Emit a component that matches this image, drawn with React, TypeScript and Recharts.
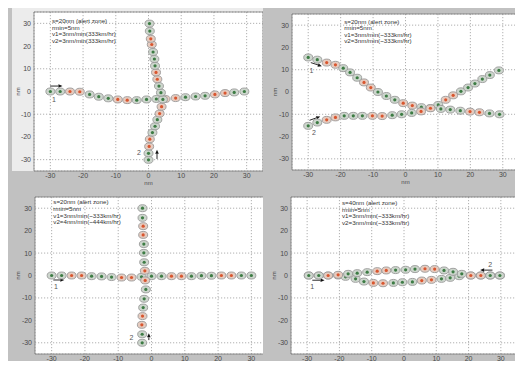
import {
  CartesianGrid,
  ReferenceArea,
  ReferenceDot,
  ReferenceLine,
  Scatter,
  ScatterChart,
  XAxis,
  YAxis,
} from "recharts";

const TICKS = [-30, -20, -10, 0, 10, 20, 30];
// every 5th minute pair is drawn in red
const MARKED = [2, 3, 7, 8, 12, 13, 17, 18];

// (a) crossing at right angles
const A1_X = [-30, -27, -24, -21, -18, -15.2, -12.3, -9.4, -6.5, -3.6, -0.6, 2.4, 5.2, 8.3, 11.3, 14.4, 17.3, 20.3, 23.4, 26.2, 29.3];
const A1_Y = [0, 0, 0, -0.1, -1.3, -2.3, -3, -3.5, -3.8, -3.8, -3.5, -3.3, -3.3, -2.9, -2.5, -2.2, -1.9, -1.3, -0.7, -0.4, 0];
const A2_X = [0, 0, 0.2, 0.4, 1.2, 2, 2.7, 3.4, 4, 4.4, 3.8, 3.2, 2.7, 2.3, 2.0, 1.8, 1.4, 1.0, 0.7, 0.4, 0.3];
const A2_Y = [-30.1, -27.2, -24.2, -21, -18.1, -15.3, -12.4, -9.7, -6.7, -3.5, -0.5, 2.4, 5.4, 8.4, 11.3, 14.3, 17.4, 20.7, 23.2, 26.6, 29.9];

// (b) converging tracks
const B1_X = [-30, -27.2, -24.3, -21.6, -19.2, -17.1, -14.9, -12.8, -10.7, -8.5, -5.9, -3.3, -0.7, 2.1, 4.9, 7.7, 10.1, 12.4, 14.7, 17.1, 19.3, 21.4, 23.7, 26, 28.8];
const B1_Y = [15.5, 14.5, 13.2, 12.2, 10.7, 8.8, 6.4, 4.3, 2.0, 0, -1.8, -3.5, -5.0, -6.1, -6.8, -7.2, -5.8, -3.5, -1.5, 0.3, 2.0, 3.8, 5.8, 7.6, 9.7];
const B2_X = [-30, -27.2, -24.3, -21.6, -18.9, -16.1, -13.3, -10.2, -7.2, -4.1, -1.2, 1.9, 4.8, 7.7, 10.9, 13.8, 16.9, 19.9, 22.8, 25.9, 29];
const B2_Y = [-15.2, -13.7, -12.5, -11.4, -10.7, -10.7, -10.7, -10.7, -10.8, -10.4, -10, -9.4, -8.7, -7.3, -7.6, -7.9, -8.4, -8.8, -9.1, -9.6, -10];

// (c) right angles, different speeds
const C1_X = [-30, -27, -24, -21, -18, -15, -12, -9, -6, -3, 0, 3, 6, 9, 12, 15, 18, 21, 24, 27, 30];
const C1_Y = [0, 0, 0, 0, -0.3, -0.4, -0.7, -0.9, -0.9, -0.6, -0.3, -0.3, -0.3, -0.3, -0.3, -0.1, -0.1, 0, 0, 0, 0];
const C2_X = [-2.8, -2.8, -2.9, -2.7, -2.5, -2.2, -1.7, -1.9, -2.0, -2.2, -2.3, -2.3, -2.5, -2.5, -2.7, -2.7];
const C2_Y = [-30, -26.2, -22, -18.1, -14.3, -10.4, -6.2, -2.2, 2.1, 5.9, 10.1, 14, 18.1, 22, 25.7, 30];

// (d) head-on
const D1_X = [-29.5, -26.4, -23.5, -20.4, -18.1, -15, -12.4, -9.5, -6.5, -3.3, -0.5, 2.6, 5.5, 8.5, 11.6, 14.3, 17.1, 20.7, 23.8, 26.7, 29.7];
const D1_Y = [0, 0, 0, 0, -0.6, -1.5, -2.7, -3.3, -3.45, -3.3, -3.0, -2.85, -2.25, -1.95, -1.5, -1.05, -0.3, 0, 0, 0, 0];
const D2_X = [29.7, 26.7, 23.8, 20.7, 17.9, 15.2, 12.4, 9.5, 6.5, 3.4, 0.5, -2.6, -5.5, -8.3, -11.4, -14.5, -17.3, -20.4, -23.5, -26.4, -29.5];
const D2_Y = [0, 0, 0, 0, 0.75, 1.65, 2.25, 2.85, 3.0, 2.85, 2.55, 2.4, 2.25, 1.95, 1.5, 1.05, 0.75, 0.3, 0, 0, 0];

const NOTES_A = ["s=20nm (alert zone)", "rmin=5nm", "v1=3nm/min(333km/hr)", "v2=3nm/min(333km/hr)"];
const NOTES_B = ["s=20nm (alert zone)", "rmin=5nm", "v1=3nm/min(~333km/hr)", "v2=3nm/min(~333km/hr)"];
const NOTES_C = ["s=20nm (alert zone)", "rmin=5nm", "v1=3nm/min(~333km/hr)", "v2=4nm/min(~444km/hr)"];
const NOTES_D = ["s=40nm (alert zone)", "rmin=5nm", "v1=3nm/min(~333km/hr)", "v2=3nm/min(~333km/hr)"];
const NOTE_AT_A = [-29.5, 31.5];
const NOTE_AT_B = [-18.9, 32];
const NOTE_AT_C = [-29.5, 33];
const NOTE_AT_D = [-19.2, 32.7];

// start arrows: from, to, label text, label position (nm)
const ARROWS_A = [
  { from: [-30.1, 2.4], to: [-26.3, 2.4], text: "1", at: [-28.9, -3.6] },
  { from: [2.6, -29.7], to: [2.6, -25.6], text: "2", at: [-2.9, -26.8] },
];
const ARROWS_B = [
  { from: [-29.2, 13.2], to: [-25.8, 11.6], text: "1", at: [-29, 9.6] },
  { from: [-29.6, -12.7], to: [-26.3, -11], text: "2", at: [-28.2, -18.2] },
];
const ARROWS_C = [
  { from: [-29.5, -2], to: [-26.2, -2], text: "1", at: [-28.7, -4.8] },
  { from: [-0.8, -28.8], to: [-0.8, -25.8], text: "2", at: [-6, -27.8] },
];
const ARROWS_D = [
  { from: [-28.4, -2.1], to: [-24.6, -2.1], text: "1", at: [-28.4, -4.8] },
  { from: [27.4, 2.4], to: [23.6, 2.4], text: "2", at: [26.7, 5] },
];

const TEXT = "#4a4a4a";
const FONT = "'Liberation Sans', Arial, sans-serif";

function track(xs: number[], ys: number[]) {
  return xs.map((x, i) => ({ x, y: ys[i], alert: MARKED.includes(i) }));
}

function Marker(props: any) {
  const { cx, cy, payload } = props;
  const red = payload.alert;
  return (
    <g>
      <ellipse cx={cx} cy={cy} rx={4.5} ry={3.5} fill={red ? "#e6cbbf" : "#cdd6cd"} stroke="#9a9a9a" strokeWidth={0.9} />
      <circle cx={cx} cy={cy} r={1.6} fill={red ? "#d9562f" : "#3d7c44"} />
    </g>
  );
}

function Arrow(props: any) {
  const { x1, y1, x2, y2 } = props;
  const ang = Math.atan2(y2 - y1, x2 - x1);
  const bx = x2 - 4 * Math.cos(ang);
  const by = y2 - 4 * Math.sin(ang);
  const px = -Math.sin(ang) * 1.8;
  const py = Math.cos(ang) * 1.8;
  return (
    <g>
      <line x1={x1} y1={y1} x2={bx} y2={by} stroke="#111" strokeWidth={0.9} />
      <polygon points={`${x2},${y2} ${bx + px},${by + py} ${bx - px},${by - py}`} fill="#111" />
    </g>
  );
}

interface PanelProps {
  left: number;
  top: number;
  width: number;
  height: number;
  marginTop: number;
  yWidth: number;
  xHeight: number;
  yLabelX: number;
  xLabelDy: number;
  bg?: string;
  tracks: Array<{ x: number; y: number; alert: boolean }[]>;
  notes: string[];
  noteAt: number[];
  arrows: typeof ARROWS_A;
}

function Panel(p: PanelProps) {
  return (
    <div style={{ position: "absolute", left: p.left, top: p.top, width: p.width, height: p.height, background: p.bg }}>
      <ScatterChart
        width={p.width}
        height={p.height}
        margin={{ top: p.marginTop, right: 0, left: 0, bottom: 0 }}
      >
        <CartesianGrid stroke="#9c9c9c" strokeDasharray="1.2 1.8" strokeWidth={0.8} fill="#ffffff" />
        <XAxis
          type="number"
          dataKey="x"
          domain={[-35, 35]}
          ticks={TICKS}
          allowDataOverflow
          height={p.xHeight}
          tickSize={0}
          tickMargin={2}
          axisLine={false}
          tick={{ fontSize: 7, fill: TEXT, fontFamily: FONT }}
          label={{
            content: ({ viewBox }: any) => (
              <text x={viewBox.x + viewBox.width / 2} y={viewBox.y + p.xLabelDy} textAnchor="middle" fontSize={6} fill={TEXT} fontFamily={FONT}>
                nm
              </text>
            ),
          }}
        />
        <YAxis
          type="number"
          dataKey="y"
          domain={[-35, 35]}
          ticks={TICKS}
          allowDataOverflow
          width={p.yWidth}
          tickSize={0}
          tickMargin={3}
          axisLine={false}
          tick={{ fontSize: 7, fill: TEXT, fontFamily: FONT }}
          label={{
            content: ({ viewBox }: any) => {
              const cx = viewBox.x + p.yLabelX;
              const cy = viewBox.y + viewBox.height / 2;
              return (
                <text x={cx} y={cy} transform={`rotate(-90 ${cx} ${cy})`} textAnchor="middle" dominantBaseline="central" fontSize={6} fill={TEXT} fontFamily={FONT}>
                  nm
                </text>
              );
            },
          }}
        />
        <ReferenceArea x1={-35} x2={35} y1={-35} y2={35} fill="none" stroke="#7c7c7c" strokeWidth={0.8} />
        {p.tracks.map((t, i) => (
          <Scatter key={i} data={t} shape={Marker} isAnimationActive={false} />
        ))}
        {p.arrows.map((a, i) => (
          <ReferenceLine
            key={"ar" + i}
            segment={[
              { x: a.from[0], y: a.from[1] },
              { x: a.to[0], y: a.to[1] },
            ]}
            shape={Arrow}
          />
        ))}
        {p.arrows.map((a, i) => (
          <ReferenceDot
            key={"lb" + i}
            x={a.at[0]}
            y={a.at[1]}
            shape={(d: any) => (
              <text x={d.cx} y={d.cy} textAnchor="middle" dominantBaseline="central" fontSize={7} fill="#555" fontFamily={FONT}>
                {a.text}
              </text>
            )}
          />
        ))}
        <ReferenceDot
          x={p.noteAt[0]}
          y={p.noteAt[1]}
          shape={(d: any) => (
            <text x={d.cx} y={d.cy} fontSize={6.2} fill="#333" fontFamily={FONT} dominantBaseline="central">
              {p.notes.map((n, i) => (
                <tspan key={i} x={d.cx} dy={i === 0 ? 0 : 6.6}>
                  {n}
                </tspan>
              ))}
            </text>
          )}
        />
      </ScatterChart>
    </div>
  );
}

export default function App() {
  return (
    <div style={{ position: "relative", width: 523, height: 369, background: "#c1c1c1", overflow: "hidden", margin: -8 }}>
      <div style={{ position: "absolute", left: 12, top: 3, width: 251, height: 168, background: "#ececec" }} />
      <Panel
        left={0}
        top={0}
        width={263}
        height={190}
        marginTop={12}
        yWidth={34}
        xHeight={19}
        yLabelX={18}
        xLabelDy={14}
        tracks={[track(A1_X, A1_Y), track(A2_X, A2_Y)]}
        notes={NOTES_A}
        noteAt={NOTE_AT_A}
        arrows={ARROWS_A}
      />
      <Panel
        left={0}
        top={185}
        width={268}
        height={184}
        marginTop={12}
        yWidth={35}
        xHeight={15}
        yLabelX={18}
        xLabelDy={13}
        tracks={[track(C1_X, C1_Y), track(C2_X, C2_Y)]}
        notes={NOTES_C}
        noteAt={NOTE_AT_C}
        arrows={ARROWS_C}
      />
      <Panel
        left={263}
        top={0}
        width={256}
        height={189}
        marginTop={14}
        yWidth={29}
        xHeight={19}
        yLabelX={12}
        xLabelDy={14}
        bg="#c1c1c1"
        tracks={[track(B1_X, B1_Y), track(B2_X, B2_Y)]}
        notes={NOTES_B}
        noteAt={NOTE_AT_B}
        arrows={ARROWS_B}
      />
      <Panel
        left={263}
        top={185}
        width={254}
        height={184}
        marginTop={12}
        yWidth={28}
        xHeight={15}
        yLabelX={11}
        xLabelDy={13}
        bg="#c1c1c1"
        tracks={[track(D1_X, D1_Y), track(D2_X, D2_Y)]}
        notes={NOTES_D}
        noteAt={NOTE_AT_D}
        arrows={ARROWS_D}
      />
    </div>
  );
}
